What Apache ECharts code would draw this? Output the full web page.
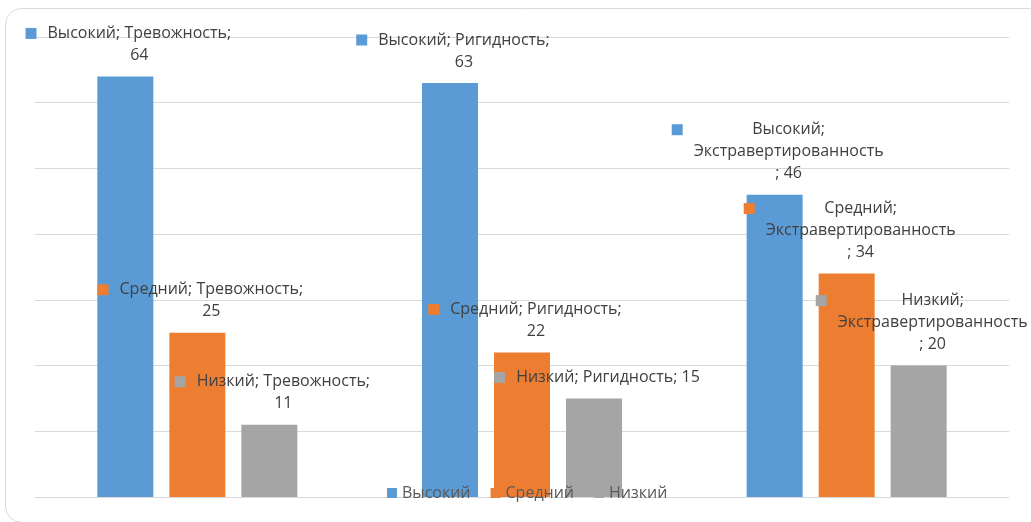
<!DOCTYPE html>
<html>
<head>
<meta charset="utf-8">
<script src="https://cdn.jsdelivr.net/npm/echarts@6/dist/echarts.min.js"></script>
<style>
  html, body { margin: 0; padding: 0; background: #ffffff; }
  #chart { width: 1031px; height: 522px; }
</style>
</head>
<body>
<div id="chart"></div>
<script>
// Levels of the three personality traits
const categories = ['Тревожность', 'Ригидность', 'Экстравертированность'];
const seriesNames = ['Высокий', 'Средний', 'Низкий'];
const highValues = [64, 63, 46];
const midValues = [25, 22, 34];
const lowValues = [11, 15, 20];
const yTicks = [0, 10, 20, 30, 40, 50, 60, 70];

const colors = ['#5B9BD5', '#ED7D31', '#A5A5A5'];
const FONT = '"Open Sans", "Noto Sans", sans-serif';
const FONT_SIZE = 16;
const WRAP_WIDTH = 192;

// Word wrap in the style of spreadsheet data labels: a word that does not
// fit moves to a new line; a word too long for any line is split by characters.
const measureCtx = document.createElement('canvas').getContext('2d');
measureCtx.font = FONT_SIZE + 'px ' + FONT;
function textWidth(s) { return measureCtx.measureText(s).width; }
function wrapText(text, limit) {
  const lines = [];
  let cur = '';
  const words = text.split(' ');
  for (let i = 0; i < words.length; i++) {
    const w = words[i];
    const candidate = cur ? cur + ' ' + w : w;
    if (textWidth(candidate) <= limit) { cur = candidate; continue; }
    if (cur) { lines.push(cur); cur = ''; }
    let rest = w;
    while (textWidth(rest) > limit) {
      let k = rest.length;
      while (k > 1 && textWidth(rest.slice(0, k)) > limit) k--;
      lines.push(rest.slice(0, k));
      rest = rest.slice(k);
    }
    cur = rest;
  }
  if (cur) lines.push(cur);
  return lines;
}

function labelFormatter(p) {
  const full = p.seriesName + '; ' + p.name + '; ' + p.value;
  const lines = wrapText(full, WRAP_WIDTH);
  return lines.map(function (l, i) {
    return (i === 0 ? '{m|}' : '{sp|}') + '{t|' + l + '}';
  }).join('\n');
}

function makeSeries(idx, data) {
  return {
    name: seriesNames[idx],
    type: 'bar',
    data: data,
    barWidth: 56,
    barGap: '28.6%',
    itemStyle: { color: colors[idx] },
    label: {
      show: true,
      position: 'top',
      distance: 10,
      offset: [3, 0],
      formatter: labelFormatter,
      color: '#404040',
      fontFamily: FONT,
      fontSize: FONT_SIZE,
      lineHeight: 22,
      align: 'center',
      rich: {
        m: { width: 11, height: 11, backgroundColor: colors[idx], align: 'left' },
        sp: { width: 11, height: 11, align: 'left' },
        t: { fontFamily: FONT, fontSize: FONT_SIZE, color: '#404040', lineHeight: 22, align: 'center', padding: [0, 0, 0, 11] }
      }
    }
  };
}

const chart = echarts.init(document.getElementById('chart'), null, { renderer: 'canvas' });
chart.setOption({
  animation: false,
  backgroundColor: '#ffffff',
  graphic: [{
    type: 'rect',
    shape: { x: 5.5, y: 8.5, width: 1040, height: 514, r: 16 },
    style: { fill: 'none', stroke: '#d9d9d9', lineWidth: 1 },
    silent: true,
    z: -1
  }],
  grid: { left: 35, right: 22, top: 37, bottom: 25, containLabel: false },
  legend: {
    data: seriesNames,
    bottom: 16,
    left: 382,
    icon: 'rect',
    itemWidth: 10,
    itemHeight: 10,
    itemGap: 20,
    textStyle: { color: '#595959', fontFamily: FONT, fontSize: FONT_SIZE }
  },
  xAxis: {
    type: 'category',
    data: categories,
    axisLine: { show: true, lineStyle: { color: '#d9d9d9' } },
    axisTick: { show: false },
    axisLabel: { show: false }
  },
  yAxis: {
    type: 'value',
    min: yTicks[0],
    max: yTicks[yTicks.length - 1],
    interval: yTicks[1] - yTicks[0],
    axisLine: { show: false },
    axisTick: { show: false },
    axisLabel: { show: false },
    splitLine: { lineStyle: { color: '#d9d9d9', width: 1 } }
  },
  series: [makeSeries(0, highValues), makeSeries(1, midValues), makeSeries(2, lowValues)]
});
</script>
</body>
</html>
